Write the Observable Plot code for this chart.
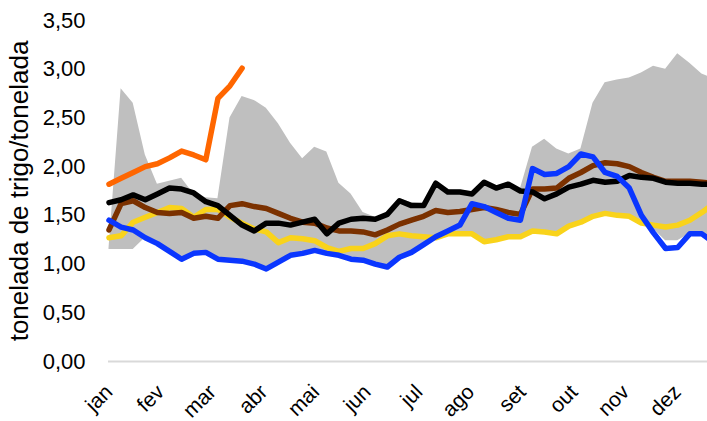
<!DOCTYPE html>
<html><head><meta charset="utf-8">
<script src="https://cdn.jsdelivr.net/npm/d3@7"></script>
<script src="https://cdn.jsdelivr.net/npm/@observablehq/plot@0.6"></script>
<style>
html,body{margin:0;padding:0;background:#fff;overflow:hidden;}
#chart svg{display:block;}
</style></head><body><div id="chart"></div>
<script>
const months = ["jan","fev","mar","abr","mai","jun","jul","ago","set","out","nov","dez"];
const yTicks = [0, 0.5, 1, 1.5, 2, 2.5, 3, 3.5];
const yTitle = "tonelada de trigo/tonelada";

const orange = [1.82,1.88,1.94,2.00,2.03,2.09,2.16,2.12,2.07,2.70,2.83,3.01];
const brown = [1.35,1.62,1.65,1.58,1.53,1.52,1.53,1.47,1.49,1.47,1.60,1.62,1.59,1.57,1.52,1.47,1.43,1.42,1.37,1.34,1.34,1.33,1.30,1.35,1.41,1.45,1.49,1.55,1.53,1.54,1.56,1.58,1.56,1.53,1.51,1.77,1.77,1.78,1.88,1.94,2.01,2.04,2.03,2.00,1.94,1.89,1.85,1.85,1.85,1.84,1.83];
const black = [1.63,1.66,1.71,1.66,1.72,1.78,1.77,1.73,1.64,1.60,1.50,1.40,1.34,1.42,1.42,1.40,1.43,1.46,1.31,1.42,1.46,1.47,1.46,1.51,1.65,1.60,1.60,1.83,1.74,1.74,1.72,1.84,1.78,1.82,1.75,1.74,1.67,1.72,1.79,1.82,1.86,1.84,1.85,1.91,1.89,1.88,1.84,1.83,1.83,1.82,1.82];
const blue = [1.45,1.38,1.35,1.27,1.21,1.13,1.05,1.11,1.12,1.05,1.04,1.03,1.00,0.95,1.02,1.09,1.11,1.14,1.11,1.09,1.05,1.04,1.00,0.97,1.07,1.12,1.20,1.28,1.34,1.40,1.62,1.59,1.53,1.47,1.45,1.98,1.92,1.93,2.00,2.13,2.10,1.94,1.90,1.78,1.50,1.32,1.16,1.17,1.31,1.31,1.22];
const yellow = [1.27,1.29,1.43,1.48,1.53,1.58,1.57,1.48,1.56,1.56,1.48,1.42,1.36,1.33,1.22,1.27,1.26,1.24,1.17,1.13,1.16,1.16,1.21,1.29,1.31,1.29,1.28,1.27,1.31,1.31,1.31,1.23,1.25,1.28,1.28,1.34,1.33,1.31,1.39,1.43,1.49,1.52,1.50,1.49,1.42,1.40,1.38,1.40,1.45,1.53,1.62];
const bandMin = [1.15,1.15,1.15,1.27,1.21,1.13,1.05,1.11,1.12,1.05,1.04,1.03,1.00,0.95,1.02,1.09,1.11,1.14,1.11,1.09,1.05,1.04,1.00,0.97,1.07,1.12,1.20,1.27,1.31,1.31,1.31,1.23,1.25,1.28,1.28,1.34,1.33,1.31,1.39,1.43,1.49,1.52,1.50,1.49,1.42,1.36,1.24,1.24,1.31,1.31,1.24];
const bandMax = [1.16,2.80,2.65,2.12,1.82,1.85,1.88,1.72,1.68,1.67,2.50,2.72,2.68,2.60,2.44,2.24,2.08,2.20,2.15,1.83,1.72,1.53,1.48,1.52,1.67,1.63,1.62,1.85,1.76,1.76,1.74,1.86,1.80,1.84,1.77,2.20,2.28,2.18,2.13,2.18,2.65,2.86,2.89,2.91,2.96,3.03,3.00,3.16,3.06,2.95,2.90];

const series = [
  {name: "amarelo", values: yellow, color: "#f9d31b"},
  {name: "marrom", values: brown, color: "#7b3100"},
  {name: "preto", values: black, color: "#000000"},
  {name: "azul", values: blue, color: "#0a36ff"},
  {name: "laranja", values: orange, color: "#ff6600"}
];
const rows = series.flatMap(s => s.values.map((v, i) => ({week: i, value: v, name: s.name})));
const band = bandMin.map((lo, i) => ({week: i, lo, hi: bandMax[i]}));
const monthPos = months.map((m, i) => i * 4.27);

const font = "'Liberation Sans', Arial, sans-serif";
const chart = Plot.plot({
  width: 707, height: 421,
  marginLeft: 108, marginRight: 0, marginTop: 20, marginBottom: 60,
  style: {fontFamily: font, fontSize: "22px", color: "#000", background: "#fff"},
  x: {domain: [0, 50], range: [108.5, 713.5], axis: null},
  y: {domain: [0, 3.5], range: [361, 20], axis: null},
  marks: [
    Plot.areaY(band, {x: "week", y1: "lo", y2: "hi", fill: "#bfbfbf"}),
    Plot.ruleY([0], {stroke: "#d9d9d9", strokeWidth: 2}),
    ...series.map(s => Plot.line(rows.filter(r => r.name === s.name), {
      x: "week", y: "value", stroke: s.color, strokeWidth: 5.5,
      strokeLinejoin: "round", strokeLinecap: "round"
    })),
    Plot.axisY(yTicks, {anchor: "left", tickSize: 0, tickPadding: 23, label: null,
      tickFormat: d => d.toFixed(2).replace(".", ","), fontSize: 22, fill: "#000"}),
    Plot.text(months, {x: (d, i) => monthPos[i], frameAnchor: "bottom", dy: 27,
      rotate: -45, textAnchor: "end", lineAnchor: "middle", fontSize: 21, fill: "#000"}),
    Plot.text([yTitle], {frameAnchor: "left", dx: -89, rotate: -90,
      textAnchor: "middle", lineAnchor: "middle", fontSize: 26, fill: "#000"})
  ]
});
document.getElementById("chart").appendChild(chart);
</script></body></html>
